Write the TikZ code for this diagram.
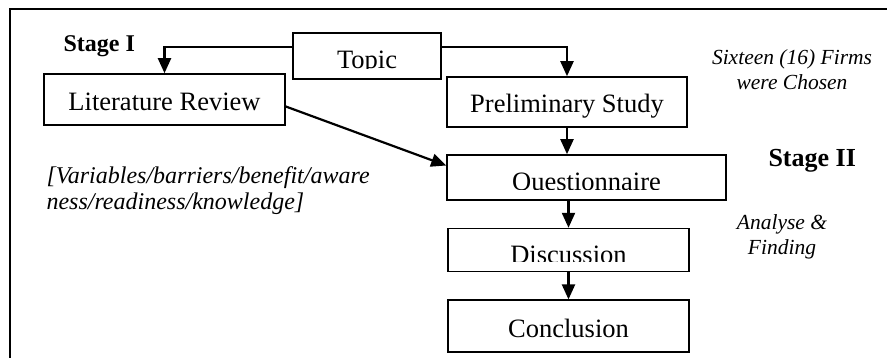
\documentclass[tikz,border=0pt]{standalone}
\usepackage{fontspec}
\setmainfont{Liberation Serif}
\usetikzlibrary{positioning,arrows.meta}

\begin{document}
\begin{tikzpicture}[x=1pt, y=-1pt,
        blocktext/.style={font=\fontsize{26.5}{30}\selectfont, text height=22pt, text depth=0pt, inner sep=0pt},
        block/.style={draw, rectangle, line width=1.6pt, blocktext},
        cutblock/.style={block, path picture={
            \clip (path picture bounding box.north west) rectangle ([yshift=10pt]path picture bounding box.south east);
            \node[blocktext, draw=none, minimum width=0pt, minimum height=0pt, anchor=center, yshift=-2pt] at (path picture bounding box.center) {#1};}},
        note/.style={font=\fontsize{21.5}{25}\selectfont\itshape, align=center},
        flow/.style={-{Triangle[length=15pt,width=13pt]}, line width=2.2pt}
    ]
        \useasboundingbox (0,0) rectangle (887,358);
        \draw [line width=2pt] (10,358) -- (10,9) -- (887,9);

        \node [cutblock=Topic, minimum width=148pt, minimum height=46pt] (topic) at (367,56) {};
        \node [block, minimum width=241pt, minimum height=51pt] (litrev) at (164.5,99.5) {Literature Review};
        \node [block, minimum width=240pt, minimum height=50pt] (prelim) at (567,102) {Preliminary Study};
        \node [cutblock=Questionnaire, minimum width=279pt, minimum height=45pt] (quest) at (586.5,177.5) {};
        \node [cutblock=Discussion, minimum width=241pt, minimum height=43pt, below=27pt of quest, xshift=-18pt] (disc) {};
        \node [block, minimum width=241pt, minimum height=52pt, below=27pt of disc] (concl) {Conclusion};

        \draw [flow] ([yshift=9pt]topic.west) -| (litrev.north);
        \draw [flow] ([yshift=9pt]topic.east) -| (prelim.north);
        \draw [flow] (prelim.south) -- (prelim.south |- quest.north);
        \draw [flow] ([yshift=-7pt]litrev.east) -- ([yshift=12pt]quest.west);
        \draw [flow] (disc.north |- quest.south) -- (disc.north);
        \draw [flow] (disc.south) -- (concl.north);

        % side notes
        \node [anchor=base west, font=\fontsize{24}{28}\selectfont\bfseries] (stageone) at (60,52) {Stage I};
        \node [anchor=base west, font=\fontsize{26}{30}\selectfont\bfseries] (stagetwo) at (765,167) {Stage II};
        \node [note] (firms) at (792,69.5) {Sixteen (16) Firms\\were Chosen};
        \node [note, font=\fontsize{24}{26}\selectfont\itshape, align=left, anchor=base west] (vars) at (43,210) {[Variables/barriers/benefit/aware\\ness/readiness/knowledge]};
        \node [note] (analyse) at (782,237) {Analyse \&\\Finding};
    \end{tikzpicture}
\end{document}
